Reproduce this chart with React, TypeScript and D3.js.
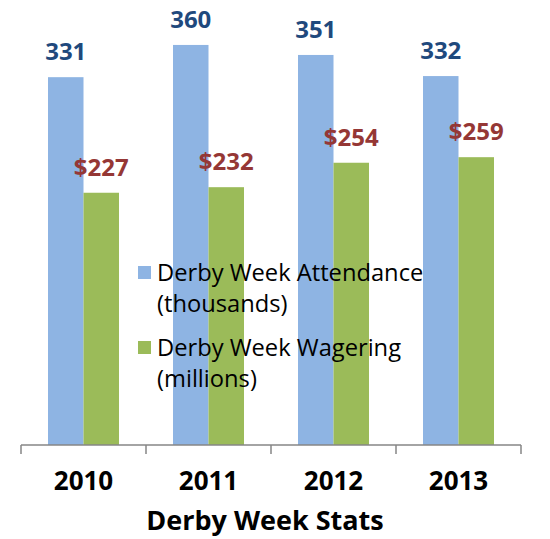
import { useEffect, useRef } from "react";
import * as d3 from "d3";

const YEARS = ["2010", "2011", "2012", "2013"];
const ATTENDANCE = [331, 360, 351, 332];   // thousands
const WAGERING   = [227, 232, 254, 259];   // millions $
const SERIES_NAMES = [
  ["Derby Week Attendance", "(thousands)"],
  ["Derby Week Wagering", "(millions)"],
];
const AXIS_TITLE = "Derby Week Stats";

const W = 550;
const H = 539;
const PLOT = { left: 21, right: 521, top: 0.5, bottom: 445 };
const COLORS = ["#8EB4E3", "#9BBB59"];
const LABEL_COLORS = ["#1F497D", "#953735"];
const FONT = "'Open Sans', Lato, sans-serif";

export default function App() {
  const svgRef = useRef<SVGSVGElement>(null);

  useEffect(() => {
    const svg = d3.select(svgRef.current);
    svg.selectAll("*").remove();

    const x = d3.scaleBand<string>()
      .domain(YEARS)
      .range([PLOT.left, PLOT.right])
      .paddingInner(0.432)
      .paddingOuter(0.216);
    const xs = d3.scaleBand<number>().domain([0, 1]).range([0, x.bandwidth()]);
    const y = d3.scaleLinear().domain([0, 400]).range([PLOT.bottom, PLOT.top]);

    const rows = YEARS.map((yr, i) => ({ yr, vals: [ATTENDANCE[i], WAGERING[i]] }));

    // ── bars ────────────────────────────────────────────────────────────────
    const groups = svg.append("g").selectAll("g").data(rows).join("g")
      .attr("transform", d => `translate(${x(d.yr)},0)`);

    groups.selectAll("rect")
      .data(d => d.vals.map((v, s) => ({ v, s })))
      .join("rect")
      .attr("x", d => xs(d.s)!)
      .attr("width", xs.bandwidth())
      .attr("y", d => y(d.v))
      .attr("height", d => y(0) - y(d.v))
      .attr("fill", d => COLORS[d.s]);

    // ── legend (drawn over bars, no background) ─────────────────────────────
    const lg = svg.append("g").attr("font-family", FONT).attr("font-size", 23.7);
    const legendY = [281, 356];
    SERIES_NAMES.forEach((lines, s) => {
      lg.append("rect")
        .attr("x", 138).attr("y", legendY[s] - 15)
        .attr("width", 13).attr("height", 13)
        .attr("fill", COLORS[s]);
      lines.forEach((t, k) => {
        lg.append("text")
          .attr("x", 157).attr("y", legendY[s] + k * 31)
          .attr("fill", "#000")
          .text(t);
      });
    });

    // ── value labels ────────────────────────────────────────────────────────
    groups.selectAll("text")
      .data(d => d.vals.map((v, s) => ({ v, s })))
      .join("text")
      .attr("x", d => xs(d.s)! + xs.bandwidth() / 2)
      .attr("y", d => y(d.v) - 17)
      .attr("text-anchor", "middle")
      .attr("font-family", FONT)
      .attr("font-weight", 700)
      .attr("font-size", 24)
      .attr("fill", d => LABEL_COLORS[d.s])
      .text(d => (d.s === 1 ? `$${d.v}` : `${d.v}`));

    // ── axis ────────────────────────────────────────────────────────────────
    const ax = svg.append("g");
    ax.append("line")
      .attr("x1", PLOT.left).attr("x2", PLOT.right)
      .attr("y1", PLOT.bottom).attr("y2", PLOT.bottom)
      .attr("stroke", "#868686").attr("stroke-width", 1.5);
    const tickXs = [...YEARS.map(yr => x(yr)! - x.step() * x.paddingInner() / 2), PLOT.right];
    ax.selectAll("line.tick").data(tickXs).join("line")
      .attr("class", "tick")
      .attr("x1", d => d).attr("x2", d => d)
      .attr("y1", PLOT.bottom).attr("y2", PLOT.bottom + 9)
      .attr("stroke", "#868686").attr("stroke-width", 1.5);

    ax.selectAll("text.yr").data(YEARS).join("text")
      .attr("class", "yr")
      .attr("x", d => x(d)! + x.bandwidth() / 2)
      .attr("y", 490)
      .attr("text-anchor", "middle")
      .attr("font-family", FONT)
      .attr("font-weight", 700)
      .attr("font-size", 26)
      .attr("fill", "#000")
      .text(d => d);

    svg.append("text")
      .attr("x", 265).attr("y", 530)
      .attr("text-anchor", "middle")
      .attr("font-family", FONT)
      .attr("font-weight", 700)
      .attr("font-size", 27)
      .attr("fill", "#000")
      .text(AXIS_TITLE);
  }, []);

  return (
    <div style={{ position: "absolute", left: 0, top: 0 }}>
      <svg ref={svgRef} width={W} height={H} style={{ display: "block", background: "#fff" }} />
    </div>
  );
}
